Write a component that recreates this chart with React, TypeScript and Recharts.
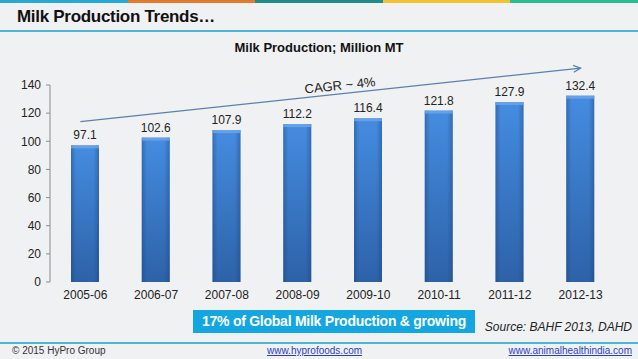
import React from 'react';
import { BarChart, Bar, XAxis, YAxis, LabelList, ReferenceLine } from 'recharts';

const years = ['2005-06', '2006-07', '2007-08', '2008-09', '2009-10', '2010-11', '2011-12', '2012-13'];
const production = [97.1, 102.6, 107.9, 112.2, 116.4, 121.8, 127.9, 132.4];
const yTicks = [0, 20, 40, 60, 80, 100, 120, 140];
const boundaryTicks = [0, 1, 2, 3, 4, 5, 6, 7, 8];
const cagrLabel = 'CAGR ~ 4%';
const cagrStart = 114;
const cagrEnd = 152;
const stripeColors = ['#27a9d6', '#e07a2c', '#1f8c86', '#f1c232', '#27bf8c'];

const data = years.map((year, i) => ({ year, value: production[i] }));

const FONT = '"Liberation Sans", Arial, sans-serif';

const CylinderBar = (props: any) => {
  const { x, y, width, height } = props;
  if (!height || height <= 0) return null;
  return (
    <g>
      <rect x={x} y={y} width={width} height={height} fill="url(#barFill)" />
      <rect x={x} y={y} width={width} height={height} fill="url(#barEdge)" />
      <rect x={x} y={y} width={width} height={3} fill="#6ea6ea" opacity={0.8} />
    </g>
  );
};

const CagrArrow = (props: any) => {
  const { x1, y1, x2, y2 } = props;
  if ([x1, y1, x2, y2].some((v) => v == null || isNaN(v))) return null;
  const sx = x1 - 5;
  const ang = Math.atan2(y2 - y1, x2 - sx);
  const deg = (ang * 180) / Math.PI;
  const head = 8;
  const a1 = ang + Math.PI - 0.45;
  const a2 = ang + Math.PI + 0.45;
  const tx = sx + (x2 - sx) * 0.52;
  const ty = y1 + (y2 - y1) * 0.52;
  return (
    <g>
      <line x1={sx} y1={y1} x2={x2} y2={y2} stroke="#5b7fae" strokeWidth={1.2} />
      <polyline
        points={`${x2 + head * Math.cos(a1)},${y2 + head * Math.sin(a1)} ${x2},${y2} ${x2 + head * Math.cos(a2)},${y2 + head * Math.sin(a2)}`}
        fill="none"
        stroke="#5b7fae"
        strokeWidth={1.2}
      />
      <text
        x={tx}
        y={ty - 4}
        textAnchor="middle"
        fontSize={13}
        fill="#222"
        fontFamily={FONT}
        transform={`rotate(${deg} ${tx} ${ty - 4})`}
      >
        {cagrLabel}
      </text>
    </g>
  );
};

const App: React.FC = () => {
  return (
    <div
      style={{
        position: 'absolute',
        left: 0,
        top: 0,
        width: 638,
        height: 359,
        background: '#f0f1f3',
        fontFamily: FONT,
        overflow: 'hidden',
      }}
    >
      {/* top colour stripe */}
      <div style={{ position: 'absolute', left: 0, top: 0, width: 638, height: 3, display: 'flex' }}>
        {stripeColors.map((c) => (
          <div key={c} style={{ flex: 1, background: c }} />
        ))}
      </div>
      <div
        style={{
          position: 'absolute',
          left: 17,
          top: 7,
          fontSize: 17,
          fontWeight: 'bold',
          color: '#111',
          letterSpacing: -0.3,
        }}
      >
        Milk Production Trends…
      </div>
      <div style={{ position: 'absolute', left: 0, top: 30, width: 638, height: 1.5, background: '#4bb6d8' }} />
      <div
        style={{
          position: 'absolute',
          left: 0,
          width: 638,
          top: 40,
          textAlign: 'center',
          fontSize: 13,
          fontWeight: 'bold',
          color: '#111',
        }}
      >
        Milk Production; Million MT
      </div>

      <div style={{ position: 'absolute', left: 0, top: 0 }}>
        <BarChart width={638} height={359} data={data} margin={{ top: 85, right: 22, bottom: 47, left: 0 }}>
          <defs>
            <linearGradient id="barFill" x1="0" y1="0" x2="0" y2="1">
              <stop offset="0%" stopColor="#458ce0" />
              <stop offset="100%" stopColor="#2d62a8" />
            </linearGradient>
            <linearGradient id="barEdge" x1="0" y1="0" x2="1" y2="0">
              <stop offset="0%" stopColor="#1c3f75" stopOpacity={0.4} />
              <stop offset="18%" stopColor="#1c3f75" stopOpacity={0} />
              <stop offset="80%" stopColor="#1c3f75" stopOpacity={0} />
              <stop offset="100%" stopColor="#1c3f75" stopOpacity={0.4} />
            </linearGradient>
          </defs>
          <XAxis
            xAxisId="edges"
            type="number"
            domain={[0, 8]}
            ticks={boundaryTicks}
            allowDataOverflow
            tick={false}
            tickSize={4}
            height={0}
            stroke="#8c8c8c"
          />
          <XAxis
            dataKey="year"
            height={30}
            axisLine={false}
            tickLine={false}
            tick={{ fontSize: 12, fill: '#222', fontFamily: FONT }}
            interval={0}
          />
          <YAxis
            width={50}
            domain={[0, 140]}
            ticks={yTicks}
            tickSize={4}
            tickMargin={5}
            stroke="#8c8c8c"
            tick={{ fontSize: 12, fill: '#222', fontFamily: FONT }}
          />
          <Bar dataKey="value" barSize={28} shape={<CylinderBar />} isAnimationActive={false}>
            <LabelList dataKey="value" position="top" offset={6} fontSize={12} fill="#222" fontFamily={FONT} />
          </Bar>
          <ReferenceLine
            segment={[
              { x: years[0], y: cagrStart },
              { x: years[years.length - 1], y: cagrEnd },
            ]}
            ifOverflow="visible"
            shape={CagrArrow}
          />
        </BarChart>
      </div>

      <div
        style={{
          position: 'absolute',
          left: 193,
          top: 310,
          width: 282,
          height: 23,
          background: '#14a6e0',
          color: '#fff',
          fontWeight: 'bold',
          fontSize: 14,
          lineHeight: '23px',
          textAlign: 'center',
          whiteSpace: 'nowrap',
          letterSpacing: -0.25,
        }}
      >
        17% of Global Milk Production &amp; growing
      </div>
      <div
        style={{
          position: 'absolute',
          right: 6,
          top: 320,
          fontSize: 12,
          fontStyle: 'italic',
          color: '#222',
        }}
      >
        Source: BAHF 2013, DAHD
      </div>
      <div style={{ position: 'absolute', left: 0, top: 342, width: 638, height: 1.5, background: '#4bb6d8' }} />
      <div style={{ position: 'absolute', left: 12, top: 345, fontSize: 10, color: '#333' }}>© 2015 HyPro Group</div>
      <div
        style={{
          position: 'absolute',
          left: 267,
          top: 345,
          fontSize: 10,
          color: '#2b3fbf',
          textDecoration: 'underline',
        }}
      >
        www.hyprofoods.com
      </div>
      <div
        style={{
          position: 'absolute',
          right: 6,
          top: 345,
          fontSize: 10,
          color: '#2b3fbf',
          textDecoration: 'underline',
        }}
      >
        www.animalhealthindia.com
      </div>
    </div>
  );
};

export default App;
